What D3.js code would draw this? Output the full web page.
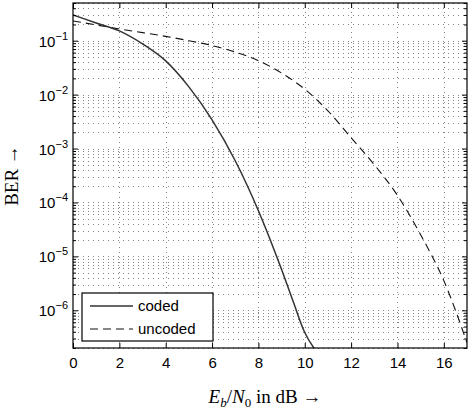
<!DOCTYPE html>
<html>
<head>
<meta charset="utf-8">
<script src="https://cdn.jsdelivr.net/npm/d3@7"></script>
<style>
  body { margin: 0; background: #fff; }
  svg { display: block; }
</style>
</head>
<body>
<svg id="chart"></svg>
<script>
"use strict";

// data (log10 of BER)
let snrValues = [0, 1, 2, 3, 4, 5, 6, 7, 8, 9, 10, 11, 12, 13, 14, 15, 16, 17];
let uncodedLog = [-0.634, -0.708, -0.782, -0.85, -0.92, -1.0, -1.09, -1.21, -1.37, -1.6, -1.9, -2.3, -2.8, -3.3, -3.87, -4.6, -5.45, -6.6];

let codedSnr = [0, 1, 2, 3, 4, 5, 6, 7, 8, 9, 9.5, 10, 10.5];
let codedLog = [-0.523, -0.671, -0.819, -1.06, -1.375, -1.857, -2.468, -3.227, -4.153, -5.245, -5.838, -6.412, -6.764];

let xTicks = [0, 2, 4, 6, 8, 10, 12, 14, 16];
let yDecades = [-1, -2, -3, -4, -5, -6];

let seriesNames = ["coded", "uncoded"];

let uncoded = snrValues.map((s, i) => ({x: s, y: Math.pow(10, uncodedLog[i])}));
let coded = codedSnr.map((s, i) => ({x: s, y: Math.pow(10, codedLog[i])}));

let width = 473, height = 414;
let margin = {top: 3, right: 6, bottom: 66, left: 73};

let svg = d3.select("#chart")
  .attr("width", width)
  .attr("height", height);

let x = d3.scaleLinear()
  .domain([0, 17])
  .range([margin.left, width - margin.right]);

let y = d3.scaleLog()
  .domain([2e-7, 0.5])
  .range([height - margin.bottom, margin.top]);

// minor log values for grid + ticks
let minorVals = [];
for (let e = -7; e <= -1; e++) {
  for (let m = 1; m <= 9; m++) {
    let v = m * Math.pow(10, e);
    if (v >= 2e-7 && v <= 0.5) minorVals.push(v);
  }
}

let grid = svg.append("g")
  .attr("stroke", "#666")
  .attr("stroke-width", 0.8)
  .attr("stroke-dasharray", "1,4")
  .attr("shape-rendering", "crispEdges");

grid.selectAll(".hg")
  .data(minorVals)
  .join("line")
    .attr("x1", x(0))
    .attr("x2", x(17))
    .attr("y1", d => Math.round(y(d)) + 0.5)
    .attr("y2", d => Math.round(y(d)) + 0.5);

grid.selectAll(".vg")
  .data(xTicks.slice(1))
  .join("line")
    .attr("x1", d => Math.round(x(d)) + 0.5)
    .attr("x2", d => Math.round(x(d)) + 0.5)
    .attr("y1", y.range()[0])
    .attr("y2", y.range()[1]);

// curves
svg.append("clipPath")
  .attr("id", "clip")
  .append("rect")
    .attr("x", x(0))
    .attr("y", margin.top)
    .attr("width", x(17) - x(0))
    .attr("height", y.range()[0] - margin.top);

let line = d3.line()
  .curve(d3.curveMonotoneX)
  .x(d => x(d.x))
  .y(d => y(d.y));

let curves = svg.append("g").attr("clip-path", "url(#clip)").attr("fill", "none");

curves.append("path")
  .datum(uncoded)
  .attr("stroke", "#111")
  .attr("stroke-width", 1.1)
  .attr("stroke-dasharray", "8,5")
  .attr("d", line);

curves.append("path")
  .datum(coded)
  .attr("stroke", "#333")
  .attr("stroke-width", 1.5)
  .attr("d", line);

// axes box with inward ticks
let axisStroke = "#000";

let xBottom = svg.append("g")
  .attr("transform", `translate(0,${y.range()[0]})`)
  .call(d3.axisBottom(x).tickValues(xTicks).tickSizeInner(-5).tickSizeOuter(0).tickPadding(9));

let xTop = svg.append("g")
  .attr("transform", `translate(0,${margin.top})`)
  .call(d3.axisTop(x).tickValues(xTicks).tickSizeInner(-5).tickSizeOuter(0).tickFormat(""));

let yLeft = svg.append("g")
  .attr("transform", `translate(${x(0)},0)`)
  .call(d3.axisLeft(y).tickValues(minorVals).tickSizeInner(-3).tickSizeOuter(0).tickFormat(""));

let yRight = svg.append("g")
  .attr("transform", `translate(${x(17)},0)`)
  .call(d3.axisRight(y).tickValues(minorVals).tickSizeInner(-3).tickSizeOuter(0).tickFormat(""));

// longer ticks at decades
[yLeft, yRight].forEach((g, i) => {
  g.selectAll(".tick line")
    .attr("x2", d => {
      let dec = Math.abs(Math.log10(d) - Math.round(Math.log10(d))) < 1e-9;
      let len = dec ? 5 : 3;
      return i === 0 ? len : -len;
    });
});

svg.selectAll(".domain").remove();
svg.selectAll(".tick line").attr("stroke", axisStroke);

svg.append("rect")
  .attr("x", x(0))
  .attr("y", margin.top)
  .attr("width", x(17) - x(0))
  .attr("height", y.range()[0] - margin.top)
  .attr("fill", "none")
  .attr("stroke", axisStroke)
  .attr("stroke-width", 1.2);

xBottom.selectAll(".tick text")
  .attr("font-family", "Liberation Sans, Arial, sans-serif")
  .attr("font-size", 15)
  .attr("fill", "#000");

// y decade labels 10^n
let yLabels = svg.append("g")
  .attr("font-family", "Liberation Sans, Arial, sans-serif")
  .attr("fill", "#000");

yDecades.forEach(e => {
  let t = yLabels.append("text")
    .attr("x", x(0) - 5)
    .attr("y", y(Math.pow(10, e)) + 6)
    .attr("text-anchor", "end")
    .attr("font-size", 15);
  t.append("tspan").text("10");
  t.append("tspan")
    .attr("dy", -7)
    .attr("font-size", 11)
    .text("\u2212" + Math.abs(e));
});

// axis titles
let serif = "Liberation Serif, Times New Roman, serif";

let xTitle = svg.append("text")
  .attr("x", 265)
  .attr("y", 403)
  .attr("text-anchor", "middle")
  .attr("font-family", serif)
  .attr("font-size", 19)
  .attr("fill", "#000");
xTitle.append("tspan").attr("font-style", "italic").text("E");
xTitle.append("tspan").attr("font-style", "italic").attr("font-size", 13).attr("dy", 4).text("b");
xTitle.append("tspan").attr("dy", -4).text("/");
xTitle.append("tspan").attr("font-style", "italic").text("N");
xTitle.append("tspan").attr("font-size", 13).attr("dy", 4).text("0");
xTitle.append("tspan").attr("dy", -4).text(" in dB \u2192");

svg.append("text")
  .attr("transform", `translate(18,${(margin.top + y.range()[0]) / 2}) rotate(-90)`)
  .attr("text-anchor", "middle")
  .attr("font-family", serif)
  .attr("font-size", 19)
  .attr("fill", "#000")
  .text("BER \u2192");

// legend
let legend = svg.append("g").attr("transform", "translate(82,293)");

legend.append("rect")
  .attr("width", 131)
  .attr("height", 48)
  .attr("fill", "#fff")
  .attr("stroke", "#000")
  .attr("stroke-width", 1.2);

let legendItems = legend.selectAll(".item")
  .data(seriesNames)
  .join("g")
    .attr("transform", (d, i) => `translate(0,${13 + i * 23})`);

legendItems.append("line")
  .attr("x1", 8)
  .attr("x2", 51)
  .attr("stroke", (d, i) => i === 0 ? "#333" : "#111")
  .attr("stroke-width", (d, i) => i === 0 ? 1.5 : 1.1)
  .attr("stroke-dasharray", (d, i) => i === 0 ? null : "8,5");

legendItems.append("text")
  .attr("x", 56)
  .attr("y", 5)
  .attr("font-family", "Liberation Sans, Arial, sans-serif")
  .attr("font-size", 15)
  .attr("fill", "#000")
  .text(d => d);
</script>
</body>
</html>
